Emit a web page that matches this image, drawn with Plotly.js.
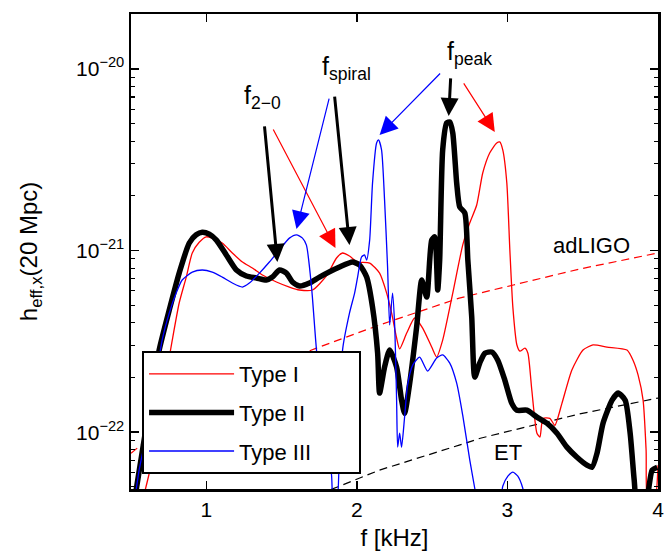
<!DOCTYPE html>
<html>
<head>
<meta charset="utf-8">
<script src="https://cdn.plot.ly/plotly-3.0.1.min.js"></script>
<style>html,body{margin:0;padding:0;background:#fff;}#chart{width:671px;height:551px;}</style>
</head>
<body>
<div id="chart"></div>
<script>
// ---- data (frequency in kHz, h_eff,x at 20 Mpc) ----
const typeI_f = [0.594,0.621,0.687,0.734,0.774,0.820,0.867,0.907,0.953,1.000,1.040,1.106,1.173,1.240,1.306,1.373,1.466,1.552,1.619,1.705,1.798,1.865,1.905,1.951,2.005,2.085,2.151,2.198,2.231,2.264,2.284,2.331,2.384,2.437,2.497,2.530,2.570,2.637,2.703,2.750,2.796,2.836,2.883,2.929,2.949,2.969,2.996,3.016,3.036,3.063,3.083,3.116,3.136,3.162,3.196,3.216,3.236,3.282,3.315,3.362,3.428,3.502,3.568,3.661,3.794,3.834,3.868,3.901,3.921,3.934,3.974,4.000];
const typeI_h = [4.79e-23,5.94e-23,1.16e-22,2.06e-22,3.21e-22,5.14e-22,7.14e-22,9.69e-22,1.11e-21,1.19e-21,1.17e-21,1.10e-21,9.69e-22,8.64e-22,8.01e-22,7.33e-22,6.71e-22,6.29e-22,6.06e-22,6.06e-22,7.24e-22,9.09e-22,9.69e-22,9.32e-22,8.64e-22,8.53e-22,7.51e-22,5.83e-22,4.52e-22,3.30e-22,2.87e-22,3.51e-22,4.25e-22,3.74e-22,2.94e-22,2.59e-22,3.21e-22,5.83e-22,1.07e-21,1.42e-21,1.78e-21,2.67e-21,3.45e-21,3.91e-21,3.96e-21,3.58e-21,2.35e-21,1.01e-21,4.88e-22,3.02e-22,2.79e-22,2.90e-22,2.72e-22,1.70e-22,9.87e-23,9.39e-23,1.19e-22,1.19e-22,1.09e-22,1.44e-22,2.20e-22,2.83e-22,3.02e-22,2.94e-22,2.83e-22,2.49e-22,2.06e-22,1.50e-22,7.96e-23,4.0e-23,4.0e-23,6.58e-23];

const typeII_f = [0.534,0.587,0.641,0.687,0.754,0.820,0.887,0.933,0.973,1.020,1.067,1.133,1.200,1.266,1.333,1.399,1.439,1.486,1.532,1.572,1.619,1.685,1.752,1.885,1.971,2.018,2.065,2.104,2.138,2.151,2.184,2.218,2.264,2.297,2.317,2.351,2.397,2.431,2.464,2.497,2.517,2.537,2.550,2.570,2.597,2.617,2.637,2.663,2.683,2.717,2.737,2.763,2.783,2.816,2.850,2.896,2.936,2.983,3.029,3.063,3.129,3.196,3.262,3.329,3.395,3.462,3.528,3.562,3.595,3.635,3.695,3.735,3.782,3.815,3.842,3.862,3.915,3.961,3.995];
const typeII_h = [4.79e-23,9.03e-23,1.70e-22,2.83e-22,4.70e-22,7.51e-22,1.10e-21,1.22e-21,1.26e-21,1.23e-21,1.14e-21,9.45e-22,7.81e-22,7.24e-22,7.06e-22,6.88e-22,7.14e-22,7.81e-22,7.51e-22,6.71e-22,6.37e-22,6.62e-22,7.14e-22,8.11e-22,8.64e-22,8.32e-22,7.14e-22,4.88e-22,2.72e-22,1.64e-22,2.28e-22,2.83e-22,2.28e-22,1.50e-22,1.27e-22,1.86e-22,3.79e-22,6.88e-22,5.54e-22,1.14e-21,1.19e-21,6.06e-22,8.86e-22,3.58e-21,5.04e-21,5.10e-21,4.44e-21,2.35e-21,1.74e-21,1.61e-21,8.86e-22,4.30e-22,2.01e-22,2.40e-22,2.72e-22,2.76e-22,2.49e-22,1.93e-22,1.44e-22,1.32e-22,1.32e-22,1.21e-22,1.12e-22,9.87e-23,8.27e-23,7.28e-23,6.58e-23,6.41e-23,7.66e-23,1.12e-22,1.50e-22,1.64e-22,1.50e-22,9.87e-23,5.44e-23,4.0e-23,4.0e-23,6.18e-23,6.41e-23];

const typeIII_f = [0.534,0.554,0.621,0.707,0.754,0.800,0.840,0.907,0.973,1.040,1.106,1.173,1.240,1.286,1.353,1.419,1.486,1.552,1.599,1.639,1.665,1.699,1.732,1.785,1.832,1.845,1.865,1.885,1.905,1.951,1.985,2.005,2.031,2.051,2.065,2.085,2.104,2.131,2.144,2.164,2.184,2.204,2.218,2.237,2.251,2.264,2.271,2.284,2.297,2.317,2.337,2.371,2.417,2.470,2.530,2.570,2.617,2.663,2.703,2.750,2.783,2.803,2.949,2.969,3.003,3.036,3.069,3.102,3.122];
const typeIII_h = [4.79e-23,6.18e-23,1.16e-22,3.21e-22,4.52e-22,5.83e-22,6.88e-22,7.61e-22,7.81e-22,7.61e-22,7.14e-22,6.62e-22,6.29e-22,6.62e-22,7.51e-22,8.64e-22,1.01e-21,1.17e-21,1.22e-21,1.17e-21,1.07e-21,6.29e-22,2.83e-22,1.16e-22,5.79e-23,4.0e-23,4.0e-23,9.03e-23,2.83e-22,4.52e-22,5.83e-22,7.14e-22,9.21e-22,9.45e-22,8.86e-22,1.14e-21,2.35e-21,3.91e-21,4.06e-21,3.58e-21,1.90e-21,8.11e-22,3.89e-22,5.83e-22,3.89e-22,1.50e-22,8.27e-23,9.87e-23,8.27e-23,1.21e-22,1.82e-22,2.34e-22,2.59e-22,2.17e-22,2.56e-22,2.66e-22,2.40e-22,1.86e-22,1.24e-22,7.01e-23,4.91e-23,4.0e-23,4.0e-23,5.04e-23,5.72e-23,6.02e-23,5.72e-23,4.91e-23,4.0e-23];

const adLIGO_f = [0.5,0.95,1.3,1.75,2.15,2.4,2.68,3.04,3.48,4.0];
const adLIGO_h = [7.66e-23,1.54e-22,2.11e-22,2.94e-22,3.89e-22,4.58e-22,5.47e-22,6.46e-22,7.91e-22,9.69e-22];

const ET_f = [1.75,2.15,2.68,2.82,3.48,4.0];
const ET_h = [4.55e-23,6.18e-23,8.48e-23,9.26e-23,1.26e-22,1.54e-22];

const seriesNames = ["Type I","Type II","Type III"];
const xTicks = [1,2,3,4];
const yTicks = [1e-22,1e-21,1e-20];
const yTickText = ["10<sup>−22</sup>","10<sup>−21</sup>","10<sup>−20</sup>"];
const yMinorTicks = [5e-23,6e-23,7e-23,8e-23,9e-23,2e-22,3e-22,4e-22,5e-22,6e-22,7e-22,8e-22,9e-22,2e-21,3e-21,4e-21,5e-21,6e-21,7e-21,8e-21,9e-21];

// ---- plotting ----
const FONT = "Liberation Sans, Arial, Helvetica, sans-serif";
const PAD = "\u00a0\u00a0\u00a0\u00a0\u00a0\u00a0\u00a0";
const traces = [
  {x: adLIGO_f, y: adLIGO_h, mode:"lines", showlegend:false, hoverinfo:"skip",
   line:{color:"#ff0000", width:1.2, dash:"8px,5px"}},
  {x: ET_f, y: ET_h, mode:"lines", showlegend:false, hoverinfo:"skip",
   line:{color:"#000000", width:1.2, dash:"8px,5px"}},
  {x: typeI_f, y: typeI_h, mode:"lines", name: seriesNames[0], legendgroup:"g1",
   line:{color:"#ff0000", width:1.3, shape:"spline", smoothing:0.6}},
  {x: typeII_f, y: typeII_h, mode:"lines", name: seriesNames[1], legendgroup:"g2",
   line:{color:"#000000", width:5.5, shape:"spline", smoothing:0.6}},
  {x: typeIII_f, y: typeIII_h, mode:"lines", name: seriesNames[2] + PAD, legendgroup:"g3",
   line:{color:"#0000ff", width:1.3, shape:"spline", smoothing:0.6}}
];

function arrow(xf, ylog, ax, ay, color, w, size){
  return {x: xf, y: ylog, xref:"x", yref:"y", text:"", showarrow:true,
          ax: ax, ay: ay, axref:"pixel", ayref:"pixel",
          arrowcolor: color, arrowwidth: w, arrowhead: 2, arrowsize: size, standoff: 0, startstandoff: 0};
}
function label(txt, px, py, size){
  return {x: px, y: py, xref:"paper", yref:"paper", text: txt, showarrow:false,
          font:{family:FONT, size:size, color:"#000"}, xanchor:"center", yanchor:"middle"};
}

const layout = {
  width: 671, height: 551,
  margin: {l:131, r:13, t:14, b:62, pad:0},
  paper_bgcolor:"#ffffff", plot_bgcolor:"#ffffff",
  font: {family: FONT, size: 20, color:"#000"},
  showlegend: true,
  legend: {x:0.021, y:0.2905, xanchor:"left", yanchor:"top",
           bgcolor:"#ffffff", bordercolor:"#000000", borderwidth:2,
           traceorder:"grouped", tracegroupgap:7,
           font:{family:FONT, size:22, color:"#000"}, itemwidth:85},
  xaxis: {type:"linear", range:[0.5,4], tickvals:xTicks, ticktext:xTicks.map(String),
          ticks:"inside", ticklen:8, tickwidth:1.5, tickcolor:"#000",
          showline:true, linewidth:2.5, linecolor:"#000", mirror:"ticks",
          showgrid:false, zeroline:false,
          tickfont:{family:FONT, size:21},
          title:{text:"f [kHz]", font:{family:FONT, size:24}, standoff:10}},
  yaxis: {type:"log", range:[-22.313,-19.698], tickmode:"array", tickvals:yTicks, ticktext:yTickText,
          ticks:"inside", ticklen:8, tickwidth:1.5, tickcolor:"#000",
          minor:{ticks:"inside", ticklen:4, tickwidth:1.2, tickcolor:"#000", tickmode:"array", tickvals:yMinorTicks, showgrid:false},
          showline:true, linewidth:2.5, linecolor:"#000", mirror:"ticks",
          showgrid:false, zeroline:false,
          tickfont:{family:FONT, size:21},
          title:{text:"h<sub>eff,x</sub>(20 Mpc)", font:{family:FONT, size:24}, standoff:32}},
  annotations: [
    arrow(1.472,-21.063,-13,-137,"#000",3,1.2),
    arrow(1.858,-20.986,-63,-120,"#ff0000",1.2,3),
    arrow(1.599,-20.882,33,-132,"#0000ff",1.2,3),
    arrow(1.951,-20.970,-15,-150,"#000",3,1.2),
    arrow(2.151,-20.364,62,-63,"#0000ff",1.2,3),
    arrow(2.610,-20.259,2,-39,"#000",3,1.2),
    arrow(2.916,-20.347,-32,-50,"#ff0000",1.2,3),
    label("f<sub>2−0</sub>",0.2486,0.8253,25),
    label("f<sub>spiral</sub>",0.408,0.886,25),
    label("f<sub>peak</sub>",0.6414,0.918,25),
    label("adLIGO",0.873,0.5116,22),
    label("ET",0.7154,0.0758,22)
  ]
};

Plotly.newPlot("chart", traces, layout, {displayModeBar:false, staticPlot:true});
</script>
</body>
</html>
